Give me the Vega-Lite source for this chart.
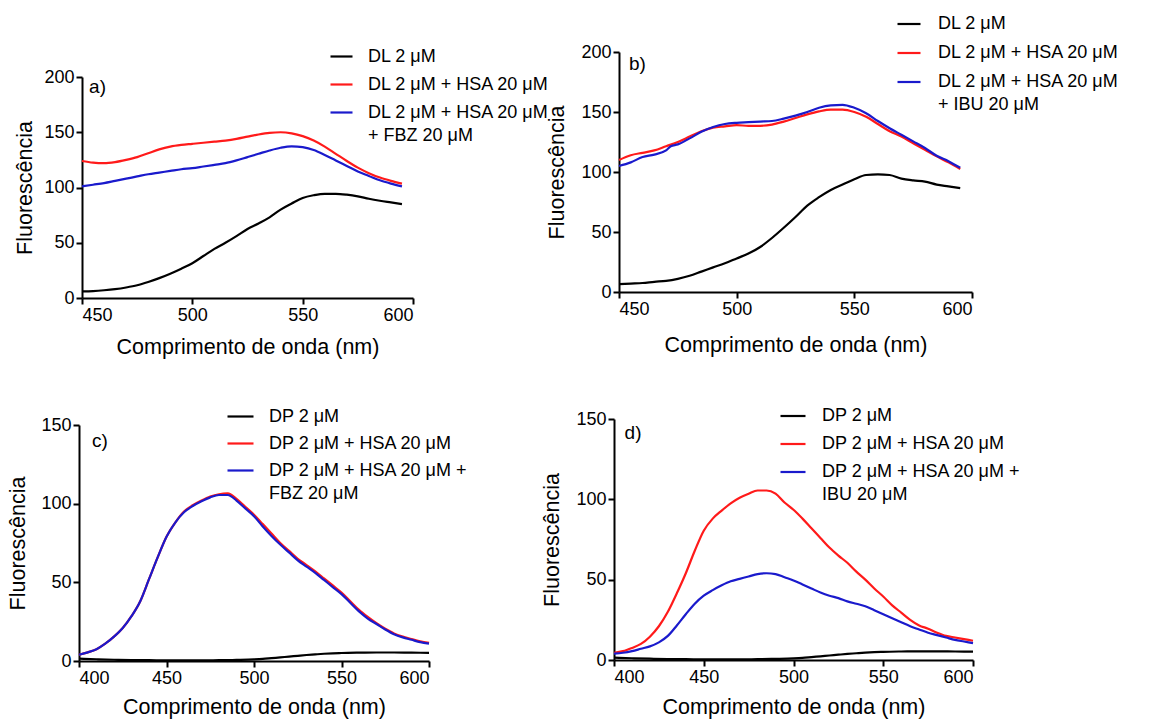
{
"$schema": "https://vega.github.io/schema/vega-lite/v6.json",
"background": "white",
"padding": {"left": 7, "top": 11, "right": 5, "bottom": 5},
"columns": 2,
"bounds": "flush",
"spacing": {"row": 121, "column": 185},
"resolve": {"scale": {"color": "independent"}},
"config": {
  "view": {"stroke": null},
  "font": "Liberation Sans",
  "axis": {"domainColor": "#000", "domainWidth": 2, "tickColor": "#000", "tickWidth": 2, "tickSize": 6, "labelFont": "Liberation Sans", "labelFontSize": 18, "labelColor": "#000", "labelPadding": 2, "titleFont": "Liberation Sans", "titleFontSize": 21.5, "titleFontWeight": "normal", "titleColor": "#000", "grid": false},
  "legend": {"title": null, "orient": "none", "symbolType": "stroke", "symbolSize": 500, "symbolStrokeWidth": 2.5, "labelFont": "Liberation Sans", "labelFontSize": 18, "labelColor": "#000", "labelOffset": 14, "labelLimit": 400, "padding": 0},
  "style": {"guide-label": {"lineHeight": 23}},
  "line": {"strokeWidth": 2.2, "interpolate": "monotone"}
},
"datasets": {
  "a": [
    {"nm":450,"serie":"DL 2 μM","f":6},{"nm":455,"serie":"DL 2 μM","f":6.3},{"nm":460,"serie":"DL 2 μM","f":7},{"nm":465,"serie":"DL 2 μM","f":8},{"nm":470,"serie":"DL 2 μM","f":9.5},{"nm":475,"serie":"DL 2 μM","f":11.5},{"nm":480,"serie":"DL 2 μM","f":14.5},{"nm":485,"serie":"DL 2 μM","f":18},{"nm":490,"serie":"DL 2 μM","f":22},{"nm":495,"serie":"DL 2 μM","f":26.5},{"nm":500,"serie":"DL 2 μM","f":31.5},{"nm":505,"serie":"DL 2 μM","f":38},{"nm":510,"serie":"DL 2 μM","f":44.5},{"nm":515,"serie":"DL 2 μM","f":50},{"nm":520,"serie":"DL 2 μM","f":56},{"nm":525,"serie":"DL 2 μM","f":62.5},{"nm":530,"serie":"DL 2 μM","f":67.5},{"nm":535,"serie":"DL 2 μM","f":73},{"nm":540,"serie":"DL 2 μM","f":80},{"nm":545,"serie":"DL 2 μM","f":85.5},{"nm":550,"serie":"DL 2 μM","f":90.5},{"nm":555,"serie":"DL 2 μM","f":93},{"nm":560,"serie":"DL 2 μM","f":94.3},{"nm":565,"serie":"DL 2 μM","f":94.3},{"nm":570,"serie":"DL 2 μM","f":93.5},{"nm":575,"serie":"DL 2 μM","f":92},{"nm":580,"serie":"DL 2 μM","f":89.8},{"nm":585,"serie":"DL 2 μM","f":88},{"nm":590,"serie":"DL 2 μM","f":86.5},{"nm":595,"serie":"DL 2 μM","f":85},
    {"nm":450,"serie":"DL 2 μM + HSA 20 μM","f":124},{"nm":455,"serie":"DL 2 μM + HSA 20 μM","f":122.5},{"nm":460,"serie":"DL 2 μM + HSA 20 μM","f":122},{"nm":465,"serie":"DL 2 μM + HSA 20 μM","f":123},{"nm":470,"serie":"DL 2 μM + HSA 20 μM","f":125},{"nm":475,"serie":"DL 2 μM + HSA 20 μM","f":127.5},{"nm":480,"serie":"DL 2 μM + HSA 20 μM","f":131},{"nm":485,"serie":"DL 2 μM + HSA 20 μM","f":134.5},{"nm":490,"serie":"DL 2 μM + HSA 20 μM","f":137},{"nm":495,"serie":"DL 2 μM + HSA 20 μM","f":138.5},{"nm":500,"serie":"DL 2 μM + HSA 20 μM","f":139.5},{"nm":505,"serie":"DL 2 μM + HSA 20 μM","f":140.5},{"nm":510,"serie":"DL 2 μM + HSA 20 μM","f":141.5},{"nm":515,"serie":"DL 2 μM + HSA 20 μM","f":142.5},{"nm":520,"serie":"DL 2 μM + HSA 20 μM","f":144},{"nm":525,"serie":"DL 2 μM + HSA 20 μM","f":146},{"nm":530,"serie":"DL 2 μM + HSA 20 μM","f":148},{"nm":535,"serie":"DL 2 μM + HSA 20 μM","f":149.5},{"nm":540,"serie":"DL 2 μM + HSA 20 μM","f":150},{"nm":545,"serie":"DL 2 μM + HSA 20 μM","f":149},{"nm":550,"serie":"DL 2 μM + HSA 20 μM","f":146.5},{"nm":555,"serie":"DL 2 μM + HSA 20 μM","f":142.5},{"nm":560,"serie":"DL 2 μM + HSA 20 μM","f":137},{"nm":565,"serie":"DL 2 μM + HSA 20 μM","f":130.5},{"nm":570,"serie":"DL 2 μM + HSA 20 μM","f":124},{"nm":575,"serie":"DL 2 μM + HSA 20 μM","f":118},{"nm":580,"serie":"DL 2 μM + HSA 20 μM","f":113},{"nm":585,"serie":"DL 2 μM + HSA 20 μM","f":109},{"nm":590,"serie":"DL 2 μM + HSA 20 μM","f":106},{"nm":595,"serie":"DL 2 μM + HSA 20 μM","f":103.5},
    {"nm":450,"serie":"DL 2 μM + HSA 20 μM + FBZ 20 μM","f":101},{"nm":455,"serie":"DL 2 μM + HSA 20 μM + FBZ 20 μM","f":102.5},{"nm":460,"serie":"DL 2 μM + HSA 20 μM + FBZ 20 μM","f":104},{"nm":465,"serie":"DL 2 μM + HSA 20 μM + FBZ 20 μM","f":106},{"nm":470,"serie":"DL 2 μM + HSA 20 μM + FBZ 20 μM","f":108},{"nm":475,"serie":"DL 2 μM + HSA 20 μM + FBZ 20 μM","f":110},{"nm":480,"serie":"DL 2 μM + HSA 20 μM + FBZ 20 μM","f":112},{"nm":485,"serie":"DL 2 μM + HSA 20 μM + FBZ 20 μM","f":113.5},{"nm":490,"serie":"DL 2 μM + HSA 20 μM + FBZ 20 μM","f":115},{"nm":495,"serie":"DL 2 μM + HSA 20 μM + FBZ 20 μM","f":116.5},{"nm":500,"serie":"DL 2 μM + HSA 20 μM + FBZ 20 μM","f":117.5},{"nm":505,"serie":"DL 2 μM + HSA 20 μM + FBZ 20 μM","f":119},{"nm":510,"serie":"DL 2 μM + HSA 20 μM + FBZ 20 μM","f":120.5},{"nm":515,"serie":"DL 2 μM + HSA 20 μM + FBZ 20 μM","f":122},{"nm":520,"serie":"DL 2 μM + HSA 20 μM + FBZ 20 μM","f":124.5},{"nm":525,"serie":"DL 2 μM + HSA 20 μM + FBZ 20 μM","f":127.5},{"nm":530,"serie":"DL 2 μM + HSA 20 μM + FBZ 20 μM","f":130.5},{"nm":535,"serie":"DL 2 μM + HSA 20 μM + FBZ 20 μM","f":133.5},{"nm":540,"serie":"DL 2 μM + HSA 20 μM + FBZ 20 μM","f":136},{"nm":545,"serie":"DL 2 μM + HSA 20 μM + FBZ 20 μM","f":137.3},{"nm":550,"serie":"DL 2 μM + HSA 20 μM + FBZ 20 μM","f":136.5},{"nm":555,"serie":"DL 2 μM + HSA 20 μM + FBZ 20 μM","f":134},{"nm":560,"serie":"DL 2 μM + HSA 20 μM + FBZ 20 μM","f":129.5},{"nm":565,"serie":"DL 2 μM + HSA 20 μM + FBZ 20 μM","f":124.5},{"nm":570,"serie":"DL 2 μM + HSA 20 μM + FBZ 20 μM","f":119.5},{"nm":575,"serie":"DL 2 μM + HSA 20 μM + FBZ 20 μM","f":114.5},{"nm":580,"serie":"DL 2 μM + HSA 20 μM + FBZ 20 μM","f":110.5},{"nm":585,"serie":"DL 2 μM + HSA 20 μM + FBZ 20 μM","f":106.5},{"nm":590,"serie":"DL 2 μM + HSA 20 μM + FBZ 20 μM","f":103.5},{"nm":595,"serie":"DL 2 μM + HSA 20 μM + FBZ 20 μM","f":101}
  ],
  "b": [
    {"nm":450,"serie":"DL 2 μM","f":6.5},{"nm":455,"serie":"DL 2 μM","f":7},{"nm":460,"serie":"DL 2 μM","f":7.5},{"nm":465,"serie":"DL 2 μM","f":8.5},{"nm":470,"serie":"DL 2 μM","f":9.3},{"nm":475,"serie":"DL 2 μM","f":11},{"nm":480,"serie":"DL 2 μM","f":13.5},{"nm":485,"serie":"DL 2 μM","f":17},{"nm":490,"serie":"DL 2 μM","f":20.5},{"nm":495,"serie":"DL 2 μM","f":24},{"nm":500,"serie":"DL 2 μM","f":28},{"nm":505,"serie":"DL 2 μM","f":32},{"nm":510,"serie":"DL 2 μM","f":37.5},{"nm":515,"serie":"DL 2 μM","f":45},{"nm":520,"serie":"DL 2 μM","f":53.5},{"nm":525,"serie":"DL 2 μM","f":62.5},{"nm":530,"serie":"DL 2 μM","f":72},{"nm":535,"serie":"DL 2 μM","f":79},{"nm":540,"serie":"DL 2 μM","f":85},{"nm":545,"serie":"DL 2 μM","f":89.5},{"nm":550,"serie":"DL 2 μM","f":94},{"nm":555,"serie":"DL 2 μM","f":97.5},{"nm":560,"serie":"DL 2 μM","f":98},{"nm":565,"serie":"DL 2 μM","f":97.5},{"nm":570,"serie":"DL 2 μM","f":94.5},{"nm":575,"serie":"DL 2 μM","f":93},{"nm":580,"serie":"DL 2 μM","f":92},{"nm":585,"serie":"DL 2 μM","f":89.5},{"nm":590,"serie":"DL 2 μM","f":88},{"nm":595,"serie":"DL 2 μM","f":86.5},
    {"nm":450,"serie":"DL 2 μM + HSA 20 μM","f":110},{"nm":455,"serie":"DL 2 μM + HSA 20 μM","f":114},{"nm":460,"serie":"DL 2 μM + HSA 20 μM","f":116},{"nm":465,"serie":"DL 2 μM + HSA 20 μM","f":118},{"nm":470,"serie":"DL 2 μM + HSA 20 μM","f":121.5},{"nm":475,"serie":"DL 2 μM + HSA 20 μM","f":125},{"nm":480,"serie":"DL 2 μM + HSA 20 μM","f":129.5},{"nm":485,"serie":"DL 2 μM + HSA 20 μM","f":134},{"nm":490,"serie":"DL 2 μM + HSA 20 μM","f":137},{"nm":495,"serie":"DL 2 μM + HSA 20 μM","f":138},{"nm":500,"serie":"DL 2 μM + HSA 20 μM","f":139},{"nm":505,"serie":"DL 2 μM + HSA 20 μM","f":138.5},{"nm":510,"serie":"DL 2 μM + HSA 20 μM","f":138.5},{"nm":515,"serie":"DL 2 μM + HSA 20 μM","f":139.5},{"nm":520,"serie":"DL 2 μM + HSA 20 μM","f":142},{"nm":525,"serie":"DL 2 μM + HSA 20 μM","f":145},{"nm":530,"serie":"DL 2 μM + HSA 20 μM","f":148},{"nm":535,"serie":"DL 2 μM + HSA 20 μM","f":150.5},{"nm":540,"serie":"DL 2 μM + HSA 20 μM","f":152},{"nm":545,"serie":"DL 2 μM + HSA 20 μM","f":152},{"nm":550,"serie":"DL 2 μM + HSA 20 μM","f":150},{"nm":555,"serie":"DL 2 μM + HSA 20 μM","f":146},{"nm":560,"serie":"DL 2 μM + HSA 20 μM","f":140},{"nm":565,"serie":"DL 2 μM + HSA 20 μM","f":134},{"nm":570,"serie":"DL 2 μM + HSA 20 μM","f":129.5},{"nm":575,"serie":"DL 2 μM + HSA 20 μM","f":124},{"nm":580,"serie":"DL 2 μM + HSA 20 μM","f":118.5},{"nm":585,"serie":"DL 2 μM + HSA 20 μM","f":113},{"nm":590,"serie":"DL 2 μM + HSA 20 μM","f":108},{"nm":595,"serie":"DL 2 μM + HSA 20 μM","f":102.5},
    {"nm":450,"serie":"DL 2 μM + HSA 20 μM + IBU 20 μM","f":105},{"nm":455,"serie":"DL 2 μM + HSA 20 μM + IBU 20 μM","f":108},{"nm":460,"serie":"DL 2 μM + HSA 20 μM + IBU 20 μM","f":112.5},{"nm":465,"serie":"DL 2 μM + HSA 20 μM + IBU 20 μM","f":114.5},{"nm":470,"serie":"DL 2 μM + HSA 20 μM + IBU 20 μM","f":118},{"nm":472,"serie":"DL 2 μM + HSA 20 μM + IBU 20 μM","f":121.5},{"nm":475,"serie":"DL 2 μM + HSA 20 μM + IBU 20 μM","f":123},{"nm":480,"serie":"DL 2 μM + HSA 20 μM + IBU 20 μM","f":128},{"nm":485,"serie":"DL 2 μM + HSA 20 μM + IBU 20 μM","f":133.5},{"nm":490,"serie":"DL 2 μM + HSA 20 μM + IBU 20 μM","f":137.5},{"nm":495,"serie":"DL 2 μM + HSA 20 μM + IBU 20 μM","f":140},{"nm":500,"serie":"DL 2 μM + HSA 20 μM + IBU 20 μM","f":141},{"nm":505,"serie":"DL 2 μM + HSA 20 μM + IBU 20 μM","f":141.5},{"nm":510,"serie":"DL 2 μM + HSA 20 μM + IBU 20 μM","f":142},{"nm":515,"serie":"DL 2 μM + HSA 20 μM + IBU 20 μM","f":142.5},{"nm":520,"serie":"DL 2 μM + HSA 20 μM + IBU 20 μM","f":144.5},{"nm":525,"serie":"DL 2 μM + HSA 20 μM + IBU 20 μM","f":147},{"nm":530,"serie":"DL 2 μM + HSA 20 μM + IBU 20 μM","f":150},{"nm":535,"serie":"DL 2 μM + HSA 20 μM + IBU 20 μM","f":153.5},{"nm":540,"serie":"DL 2 μM + HSA 20 μM + IBU 20 μM","f":155.5},{"nm":545,"serie":"DL 2 μM + HSA 20 μM + IBU 20 μM","f":156},{"nm":550,"serie":"DL 2 μM + HSA 20 μM + IBU 20 μM","f":153.5},{"nm":555,"serie":"DL 2 μM + HSA 20 μM + IBU 20 μM","f":149},{"nm":560,"serie":"DL 2 μM + HSA 20 μM + IBU 20 μM","f":142.5},{"nm":565,"serie":"DL 2 μM + HSA 20 μM + IBU 20 μM","f":136.5},{"nm":570,"serie":"DL 2 μM + HSA 20 μM + IBU 20 μM","f":131},{"nm":575,"serie":"DL 2 μM + HSA 20 μM + IBU 20 μM","f":125.5},{"nm":580,"serie":"DL 2 μM + HSA 20 μM + IBU 20 μM","f":120},{"nm":585,"serie":"DL 2 μM + HSA 20 μM + IBU 20 μM","f":113.5},{"nm":590,"serie":"DL 2 μM + HSA 20 μM + IBU 20 μM","f":109},{"nm":595,"serie":"DL 2 μM + HSA 20 μM + IBU 20 μM","f":103.5}
  ],
  "c": [
    {"nm":400,"serie":"DP 2 μM","f":1.5},{"nm":410,"serie":"DP 2 μM","f":1.1},{"nm":420,"serie":"DP 2 μM","f":0.8},{"nm":430,"serie":"DP 2 μM","f":0.6},{"nm":440,"serie":"DP 2 μM","f":0.5},{"nm":450,"serie":"DP 2 μM","f":0.4},{"nm":460,"serie":"DP 2 μM","f":0.4},{"nm":470,"serie":"DP 2 μM","f":0.4},{"nm":480,"serie":"DP 2 μM","f":0.5},{"nm":490,"serie":"DP 2 μM","f":0.7},{"nm":500,"serie":"DP 2 μM","f":1},{"nm":505,"serie":"DP 2 μM","f":1.3},{"nm":510,"serie":"DP 2 μM","f":1.8},{"nm":515,"serie":"DP 2 μM","f":2.3},{"nm":520,"serie":"DP 2 μM","f":2.8},{"nm":525,"serie":"DP 2 μM","f":3.3},{"nm":530,"serie":"DP 2 μM","f":3.8},{"nm":535,"serie":"DP 2 μM","f":4.2},{"nm":540,"serie":"DP 2 μM","f":4.6},{"nm":545,"serie":"DP 2 μM","f":4.9},{"nm":550,"serie":"DP 2 μM","f":5.1},{"nm":560,"serie":"DP 2 μM","f":5.3},{"nm":570,"serie":"DP 2 μM","f":5.4},{"nm":580,"serie":"DP 2 μM","f":5.4},{"nm":590,"serie":"DP 2 μM","f":5.3},{"nm":600,"serie":"DP 2 μM","f":5.2},
    {"nm":400,"serie":"DP 2 μM + HSA 20 μM","f":4},{"nm":405,"serie":"DP 2 μM + HSA 20 μM","f":5.5},{"nm":410,"serie":"DP 2 μM + HSA 20 μM","f":7.5},{"nm":415,"serie":"DP 2 μM + HSA 20 μM","f":11},{"nm":420,"serie":"DP 2 μM + HSA 20 μM","f":15.5},{"nm":425,"serie":"DP 2 μM + HSA 20 μM","f":21},{"nm":430,"serie":"DP 2 μM + HSA 20 μM","f":28.5},{"nm":435,"serie":"DP 2 μM + HSA 20 μM","f":38},{"nm":440,"serie":"DP 2 μM + HSA 20 μM","f":52},{"nm":445,"serie":"DP 2 μM + HSA 20 μM","f":66},{"nm":450,"serie":"DP 2 μM + HSA 20 μM","f":79},{"nm":455,"serie":"DP 2 μM + HSA 20 μM","f":88},{"nm":460,"serie":"DP 2 μM + HSA 20 μM","f":95},{"nm":465,"serie":"DP 2 μM + HSA 20 μM","f":99},{"nm":470,"serie":"DP 2 μM + HSA 20 μM","f":102},{"nm":475,"serie":"DP 2 μM + HSA 20 μM","f":104.5},{"nm":480,"serie":"DP 2 μM + HSA 20 μM","f":106},{"nm":485,"serie":"DP 2 μM + HSA 20 μM","f":106.5},{"nm":490,"serie":"DP 2 μM + HSA 20 μM","f":103},{"nm":495,"serie":"DP 2 μM + HSA 20 μM","f":98},{"nm":500,"serie":"DP 2 μM + HSA 20 μM","f":93},{"nm":505,"serie":"DP 2 μM + HSA 20 μM","f":87},{"nm":510,"serie":"DP 2 μM + HSA 20 μM","f":81},{"nm":515,"serie":"DP 2 μM + HSA 20 μM","f":75},{"nm":520,"serie":"DP 2 μM + HSA 20 μM","f":70},{"nm":525,"serie":"DP 2 μM + HSA 20 μM","f":65},{"nm":530,"serie":"DP 2 μM + HSA 20 μM","f":61},{"nm":535,"serie":"DP 2 μM + HSA 20 μM","f":57},{"nm":540,"serie":"DP 2 μM + HSA 20 μM","f":52.5},{"nm":545,"serie":"DP 2 μM + HSA 20 μM","f":48},{"nm":550,"serie":"DP 2 μM + HSA 20 μM","f":43.5},{"nm":555,"serie":"DP 2 μM + HSA 20 μM","f":38},{"nm":560,"serie":"DP 2 μM + HSA 20 μM","f":32.5},{"nm":565,"serie":"DP 2 μM + HSA 20 μM","f":28},{"nm":570,"serie":"DP 2 μM + HSA 20 μM","f":24},{"nm":575,"serie":"DP 2 μM + HSA 20 μM","f":20.5},{"nm":580,"serie":"DP 2 μM + HSA 20 μM","f":17.5},{"nm":585,"serie":"DP 2 μM + HSA 20 μM","f":15.5},{"nm":590,"serie":"DP 2 μM + HSA 20 μM","f":14},{"nm":595,"serie":"DP 2 μM + HSA 20 μM","f":12.5},{"nm":600,"serie":"DP 2 μM + HSA 20 μM","f":11.5},
    {"nm":400,"serie":"DP 2 μM + HSA 20 μM + FBZ 20 μM","f":4},{"nm":405,"serie":"DP 2 μM + HSA 20 μM + FBZ 20 μM","f":5.5},{"nm":410,"serie":"DP 2 μM + HSA 20 μM + FBZ 20 μM","f":7.5},{"nm":415,"serie":"DP 2 μM + HSA 20 μM + FBZ 20 μM","f":11},{"nm":420,"serie":"DP 2 μM + HSA 20 μM + FBZ 20 μM","f":15.5},{"nm":425,"serie":"DP 2 μM + HSA 20 μM + FBZ 20 μM","f":21},{"nm":430,"serie":"DP 2 μM + HSA 20 μM + FBZ 20 μM","f":28.5},{"nm":435,"serie":"DP 2 μM + HSA 20 μM + FBZ 20 μM","f":38},{"nm":440,"serie":"DP 2 μM + HSA 20 μM + FBZ 20 μM","f":52},{"nm":445,"serie":"DP 2 μM + HSA 20 μM + FBZ 20 μM","f":66},{"nm":450,"serie":"DP 2 μM + HSA 20 μM + FBZ 20 μM","f":79},{"nm":455,"serie":"DP 2 μM + HSA 20 μM + FBZ 20 μM","f":88},{"nm":460,"serie":"DP 2 μM + HSA 20 μM + FBZ 20 μM","f":94.5},{"nm":465,"serie":"DP 2 μM + HSA 20 μM + FBZ 20 μM","f":98.5},{"nm":470,"serie":"DP 2 μM + HSA 20 μM + FBZ 20 μM","f":101.5},{"nm":475,"serie":"DP 2 μM + HSA 20 μM + FBZ 20 μM","f":104},{"nm":480,"serie":"DP 2 μM + HSA 20 μM + FBZ 20 μM","f":105.5},{"nm":485,"serie":"DP 2 μM + HSA 20 μM + FBZ 20 μM","f":105.5},{"nm":490,"serie":"DP 2 μM + HSA 20 μM + FBZ 20 μM","f":102},{"nm":495,"serie":"DP 2 μM + HSA 20 μM + FBZ 20 μM","f":97},{"nm":500,"serie":"DP 2 μM + HSA 20 μM + FBZ 20 μM","f":92},{"nm":505,"serie":"DP 2 μM + HSA 20 μM + FBZ 20 μM","f":85.5},{"nm":510,"serie":"DP 2 μM + HSA 20 μM + FBZ 20 μM","f":79.5},{"nm":515,"serie":"DP 2 μM + HSA 20 μM + FBZ 20 μM","f":74},{"nm":520,"serie":"DP 2 μM + HSA 20 μM + FBZ 20 μM","f":69},{"nm":525,"serie":"DP 2 μM + HSA 20 μM + FBZ 20 μM","f":64},{"nm":530,"serie":"DP 2 μM + HSA 20 μM + FBZ 20 μM","f":60},{"nm":535,"serie":"DP 2 μM + HSA 20 μM + FBZ 20 μM","f":56},{"nm":540,"serie":"DP 2 μM + HSA 20 μM + FBZ 20 μM","f":51.5},{"nm":545,"serie":"DP 2 μM + HSA 20 μM + FBZ 20 μM","f":47},{"nm":550,"serie":"DP 2 μM + HSA 20 μM + FBZ 20 μM","f":42.5},{"nm":555,"serie":"DP 2 μM + HSA 20 μM + FBZ 20 μM","f":37},{"nm":560,"serie":"DP 2 μM + HSA 20 μM + FBZ 20 μM","f":31.5},{"nm":565,"serie":"DP 2 μM + HSA 20 μM + FBZ 20 μM","f":27},{"nm":570,"serie":"DP 2 μM + HSA 20 μM + FBZ 20 μM","f":23.5},{"nm":575,"serie":"DP 2 μM + HSA 20 μM + FBZ 20 μM","f":20},{"nm":580,"serie":"DP 2 μM + HSA 20 μM + FBZ 20 μM","f":17},{"nm":585,"serie":"DP 2 μM + HSA 20 μM + FBZ 20 μM","f":15},{"nm":590,"serie":"DP 2 μM + HSA 20 μM + FBZ 20 μM","f":13.5},{"nm":595,"serie":"DP 2 μM + HSA 20 μM + FBZ 20 μM","f":12},{"nm":600,"serie":"DP 2 μM + HSA 20 μM + FBZ 20 μM","f":11}
  ],
  "d": [
    {"nm":400,"serie":"DP 2 μM","f":1.5},{"nm":410,"serie":"DP 2 μM","f":1.1},{"nm":420,"serie":"DP 2 μM","f":0.8},{"nm":430,"serie":"DP 2 μM","f":0.6},{"nm":440,"serie":"DP 2 μM","f":0.5},{"nm":450,"serie":"DP 2 μM","f":0.4},{"nm":460,"serie":"DP 2 μM","f":0.4},{"nm":470,"serie":"DP 2 μM","f":0.4},{"nm":480,"serie":"DP 2 μM","f":0.5},{"nm":490,"serie":"DP 2 μM","f":0.7},{"nm":500,"serie":"DP 2 μM","f":1},{"nm":505,"serie":"DP 2 μM","f":1.3},{"nm":510,"serie":"DP 2 μM","f":1.8},{"nm":515,"serie":"DP 2 μM","f":2.3},{"nm":520,"serie":"DP 2 μM","f":2.8},{"nm":525,"serie":"DP 2 μM","f":3.3},{"nm":530,"serie":"DP 2 μM","f":3.8},{"nm":535,"serie":"DP 2 μM","f":4.2},{"nm":540,"serie":"DP 2 μM","f":4.6},{"nm":545,"serie":"DP 2 μM","f":4.9},{"nm":550,"serie":"DP 2 μM","f":5.1},{"nm":560,"serie":"DP 2 μM","f":5.3},{"nm":570,"serie":"DP 2 μM","f":5.4},{"nm":580,"serie":"DP 2 μM","f":5.4},{"nm":590,"serie":"DP 2 μM","f":5.3},{"nm":600,"serie":"DP 2 μM","f":5.2},
    {"nm":400,"serie":"DP 2 μM + HSA 20 μM","f":4.5},{"nm":405,"serie":"DP 2 μM + HSA 20 μM","f":5.5},{"nm":410,"serie":"DP 2 μM + HSA 20 μM","f":7.5},{"nm":415,"serie":"DP 2 μM + HSA 20 μM","f":10},{"nm":420,"serie":"DP 2 μM + HSA 20 μM","f":14.5},{"nm":425,"serie":"DP 2 μM + HSA 20 μM","f":21},{"nm":430,"serie":"DP 2 μM + HSA 20 μM","f":30},{"nm":435,"serie":"DP 2 μM + HSA 20 μM","f":41.5},{"nm":440,"serie":"DP 2 μM + HSA 20 μM","f":54},{"nm":445,"serie":"DP 2 μM + HSA 20 μM","f":68},{"nm":450,"serie":"DP 2 μM + HSA 20 μM","f":80.5},{"nm":455,"serie":"DP 2 μM + HSA 20 μM","f":88},{"nm":460,"serie":"DP 2 μM + HSA 20 μM","f":93},{"nm":465,"serie":"DP 2 μM + HSA 20 μM","f":97.5},{"nm":470,"serie":"DP 2 μM + HSA 20 μM","f":101},{"nm":475,"serie":"DP 2 μM + HSA 20 μM","f":103.5},{"nm":480,"serie":"DP 2 μM + HSA 20 μM","f":105.5},{"nm":485,"serie":"DP 2 μM + HSA 20 μM","f":105.5},{"nm":490,"serie":"DP 2 μM + HSA 20 μM","f":103.5},{"nm":495,"serie":"DP 2 μM + HSA 20 μM","f":98},{"nm":500,"serie":"DP 2 μM + HSA 20 μM","f":93.5},{"nm":505,"serie":"DP 2 μM + HSA 20 μM","f":88},{"nm":510,"serie":"DP 2 μM + HSA 20 μM","f":82},{"nm":515,"serie":"DP 2 μM + HSA 20 μM","f":76},{"nm":520,"serie":"DP 2 μM + HSA 20 μM","f":70},{"nm":525,"serie":"DP 2 μM + HSA 20 μM","f":65},{"nm":530,"serie":"DP 2 μM + HSA 20 μM","f":60.5},{"nm":535,"serie":"DP 2 μM + HSA 20 μM","f":55},{"nm":540,"serie":"DP 2 μM + HSA 20 μM","f":50},{"nm":545,"serie":"DP 2 μM + HSA 20 μM","f":44.5},{"nm":550,"serie":"DP 2 μM + HSA 20 μM","f":39.5},{"nm":555,"serie":"DP 2 μM + HSA 20 μM","f":34},{"nm":560,"serie":"DP 2 μM + HSA 20 μM","f":29.5},{"nm":565,"serie":"DP 2 μM + HSA 20 μM","f":25},{"nm":570,"serie":"DP 2 μM + HSA 20 μM","f":21.5},{"nm":575,"serie":"DP 2 μM + HSA 20 μM","f":19.5},{"nm":580,"serie":"DP 2 μM + HSA 20 μM","f":17},{"nm":585,"serie":"DP 2 μM + HSA 20 μM","f":15},{"nm":590,"serie":"DP 2 μM + HSA 20 μM","f":14},{"nm":595,"serie":"DP 2 μM + HSA 20 μM","f":13},{"nm":600,"serie":"DP 2 μM + HSA 20 μM","f":12},
    {"nm":400,"serie":"DP 2 μM + HSA 20 μM + IBU 20 μM","f":4},{"nm":405,"serie":"DP 2 μM + HSA 20 μM + IBU 20 μM","f":4.5},{"nm":410,"serie":"DP 2 μM + HSA 20 μM + IBU 20 μM","f":5.5},{"nm":415,"serie":"DP 2 μM + HSA 20 μM + IBU 20 μM","f":7},{"nm":420,"serie":"DP 2 μM + HSA 20 μM + IBU 20 μM","f":8.5},{"nm":425,"serie":"DP 2 μM + HSA 20 μM + IBU 20 μM","f":11},{"nm":430,"serie":"DP 2 μM + HSA 20 μM + IBU 20 μM","f":15},{"nm":435,"serie":"DP 2 μM + HSA 20 μM + IBU 20 μM","f":21.5},{"nm":440,"serie":"DP 2 μM + HSA 20 μM + IBU 20 μM","f":28.5},{"nm":445,"serie":"DP 2 μM + HSA 20 μM + IBU 20 μM","f":35},{"nm":450,"serie":"DP 2 μM + HSA 20 μM + IBU 20 μM","f":40},{"nm":455,"serie":"DP 2 μM + HSA 20 μM + IBU 20 μM","f":43.5},{"nm":460,"serie":"DP 2 μM + HSA 20 μM + IBU 20 μM","f":46.5},{"nm":465,"serie":"DP 2 μM + HSA 20 μM + IBU 20 μM","f":49},{"nm":470,"serie":"DP 2 μM + HSA 20 μM + IBU 20 μM","f":50.5},{"nm":475,"serie":"DP 2 μM + HSA 20 μM + IBU 20 μM","f":52},{"nm":480,"serie":"DP 2 μM + HSA 20 μM + IBU 20 μM","f":53.5},{"nm":485,"serie":"DP 2 μM + HSA 20 μM + IBU 20 μM","f":54},{"nm":490,"serie":"DP 2 μM + HSA 20 μM + IBU 20 μM","f":53.5},{"nm":495,"serie":"DP 2 μM + HSA 20 μM + IBU 20 μM","f":51.5},{"nm":500,"serie":"DP 2 μM + HSA 20 μM + IBU 20 μM","f":49.5},{"nm":505,"serie":"DP 2 μM + HSA 20 μM + IBU 20 μM","f":47},{"nm":510,"serie":"DP 2 μM + HSA 20 μM + IBU 20 μM","f":44.5},{"nm":515,"serie":"DP 2 μM + HSA 20 μM + IBU 20 μM","f":42},{"nm":520,"serie":"DP 2 μM + HSA 20 μM + IBU 20 μM","f":40},{"nm":525,"serie":"DP 2 μM + HSA 20 μM + IBU 20 μM","f":38.5},{"nm":530,"serie":"DP 2 μM + HSA 20 μM + IBU 20 μM","f":36.5},{"nm":535,"serie":"DP 2 μM + HSA 20 μM + IBU 20 μM","f":35},{"nm":540,"serie":"DP 2 μM + HSA 20 μM + IBU 20 μM","f":33.5},{"nm":545,"serie":"DP 2 μM + HSA 20 μM + IBU 20 μM","f":31},{"nm":550,"serie":"DP 2 μM + HSA 20 μM + IBU 20 μM","f":28.5},{"nm":555,"serie":"DP 2 μM + HSA 20 μM + IBU 20 μM","f":26},{"nm":560,"serie":"DP 2 μM + HSA 20 μM + IBU 20 μM","f":23.5},{"nm":565,"serie":"DP 2 μM + HSA 20 μM + IBU 20 μM","f":21},{"nm":570,"serie":"DP 2 μM + HSA 20 μM + IBU 20 μM","f":19},{"nm":575,"serie":"DP 2 μM + HSA 20 μM + IBU 20 μM","f":17},{"nm":580,"serie":"DP 2 μM + HSA 20 μM + IBU 20 μM","f":15.5},{"nm":585,"serie":"DP 2 μM + HSA 20 μM + IBU 20 μM","f":14},{"nm":590,"serie":"DP 2 μM + HSA 20 μM + IBU 20 μM","f":12.5},{"nm":595,"serie":"DP 2 μM + HSA 20 μM + IBU 20 μM","f":11.5},{"nm":600,"serie":"DP 2 μM + HSA 20 μM + IBU 20 μM","f":10.5}
  ]
},
"concat": [
  {
    "width": 334, "height": 246,
    "layer": [
      {"data": {"name": "a"}, "mark": "line",
       "encoding": {
         "x": {"field": "nm", "type": "quantitative", "scale": {"domain": [450, 600], "nice": false, "range": [3, 334]}, "axis": {"values": [450, 500, 550, 600], "title": "Comprimento de onda (nm)", "titlePadding": 12}},
         "y": {"field": "f", "type": "quantitative", "scale": {"domain": [0, 200], "nice": false, "range": [246, 25]}, "axis": {"values": [0, 50, 100, 150, 200], "title": "Fluorescência", "titlePadding": 7, "offset": -3}},
         "color": {"field": "serie", "type": "nominal", "scale": {"domain": ["DL 2 μM", "DL 2 μM + HSA 20 μM", "DL 2 μM + HSA 20 μM + FBZ 20 μM"], "range": ["#000000", "#ff1a1a", "#1a1acc"]},
           "legend": {"legendX": 250, "legendY": -8, "rowPadding": 6, "symbolSize": 484, "labelOffset": 14, "labelExpr": "datum.label == 'DL 2 μM + HSA 20 μM + FBZ 20 μM' ? ['DL 2 μM + HSA 20 μM', '+ FBZ 20 μM'] : datum.label"}}
       }},
      {"data": {"values": [{}]}, "mark": {"type": "text", "align": "left", "baseline": "middle", "fontSize": 19, "font": "Liberation Sans", "color": "#000"},
       "encoding": {"x": {"datum": 453.2}, "y": {"datum": 191}, "text": {"value": "a)"}}}
    ]
  },
  {
    "width": 358, "height": 240,
    "layer": [
      {"data": {"name": "b"}, "mark": "line",
       "encoding": {
         "x": {"field": "nm", "type": "quantitative", "scale": {"domain": [450, 600], "nice": false, "range": [5, 358]}, "axis": {"values": [450, 500, 550, 600], "title": "Comprimento de onda (nm)", "titlePadding": 16}},
         "y": {"field": "f", "type": "quantitative", "scale": {"domain": [0, 200], "nice": false}, "axis": {"values": [0, 50, 100, 150, 200], "title": "Fluorescência", "titlePadding": 12, "offset": -5}},
         "color": {"field": "serie", "type": "nominal", "scale": {"domain": ["DL 2 μM", "DL 2 μM + HSA 20 μM", "DL 2 μM + HSA 20 μM + IBU 20 μM"], "range": ["#000000", "#ff1a1a", "#1a1acc"]},
           "legend": {"legendX": 282, "legendY": -41, "rowPadding": 7, "symbolSize": 529, "labelOffset": 16, "labelExpr": "datum.label == 'DL 2 μM + HSA 20 μM + IBU 20 μM' ? ['DL 2 μM + HSA 20 μM', '+ IBU 20 μM'] : datum.label"}}
       }},
      {"data": {"values": [{}]}, "mark": {"type": "text", "align": "left", "baseline": "middle", "fontSize": 19, "font": "Liberation Sans", "color": "#000"},
       "encoding": {"x": {"datum": 454.2}, "y": {"datum": 190}, "text": {"value": "b)"}}}
    ]
  },
  {
    "width": 350, "height": 242,
    "layer": [
      {"data": {"name": "c"}, "mark": "line",
       "encoding": {
         "x": {"field": "nm", "type": "quantitative", "scale": {"domain": [400, 600], "nice": false}, "axis": {"values": [400, 450, 500, 550, 600], "title": "Comprimento de onda (nm)", "titlePadding": 9.5}},
         "y": {"field": "f", "type": "quantitative", "scale": {"domain": [0, 150], "nice": false, "range": [242, 6]}, "axis": {"values": [0, 50, 100, 150], "title": "Fluorescência", "titlePadding": 11}},
         "color": {"field": "serie", "type": "nominal", "scale": {"domain": ["DP 2 μM", "DP 2 μM + HSA 20 μM", "DP 2 μM + HSA 20 μM + FBZ 20 μM"], "range": ["#000000", "#ff1a1a", "#1a1acc"]},
           "legend": {"legendX": 147, "legendY": -17, "rowPadding": 3, "symbolSize": 676, "labelOffset": 14, "labelExpr": "datum.label == 'DP 2 μM + HSA 20 μM + FBZ 20 μM' ? ['DP 2 μM + HSA 20 μM +', 'FBZ 20 μM'] : datum.label"}}
       }},
      {"data": {"values": [{}]}, "mark": {"type": "text", "align": "left", "baseline": "middle", "fontSize": 19, "font": "Liberation Sans", "color": "#000"},
       "encoding": {"x": {"datum": 407.4}, "y": {"datum": 140}, "text": {"value": "c)"}}}
    ]
  },
  {
    "width": 359, "height": 241,
    "layer": [
      {"data": {"name": "d"}, "mark": "line",
       "encoding": {
         "x": {"field": "nm", "type": "quantitative", "scale": {"domain": [400, 600], "nice": false}, "axis": {"values": [400, 450, 500, 550, 600], "title": "Comprimento de onda (nm)", "titlePadding": 10}},
         "y": {"field": "f", "type": "quantitative", "scale": {"domain": [0, 150], "nice": false}, "axis": {"values": [0, 50, 100, 150], "title": "Fluorescência", "titlePadding": 12}},
         "color": {"field": "serie", "type": "nominal", "scale": {"domain": ["DP 2 μM", "DP 2 μM + HSA 20 μM", "DP 2 μM + HSA 20 μM + IBU 20 μM"], "range": ["#000000", "#ff1a1a", "#1a1acc"]},
           "legend": {"legendX": 165, "legendY": -17, "rowPadding": 5, "symbolSize": 625, "labelOffset": 15, "labelExpr": "datum.label == 'DP 2 μM + HSA 20 μM + IBU 20 μM' ? ['DP 2 μM + HSA 20 μM +', 'IBU 20 μM'] : datum.label"}}
       }},
      {"data": {"values": [{}]}, "mark": {"type": "text", "align": "left", "baseline": "middle", "fontSize": 19, "font": "Liberation Sans", "color": "#000"},
       "encoding": {"x": {"datum": 405.9}, "y": {"datum": 141}, "text": {"value": "d)"}}}
    ]
  }
]
}
